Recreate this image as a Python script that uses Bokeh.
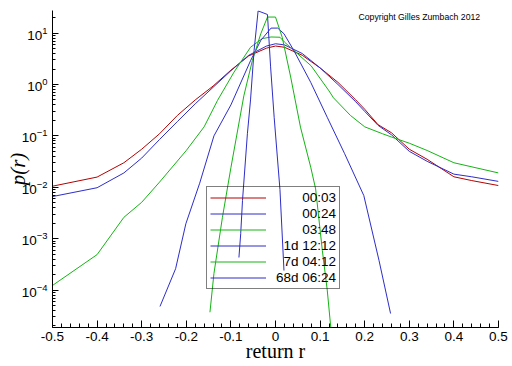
from bokeh.plotting import figure
from bokeh.models import Range1d, FixedTicker, LogTickFormatter, Label, Legend, LegendItem
from bokeh.embed import file_html
from bokeh.resources import INLINE

# ---------------- data ----------------
series_names = ["00:03", "00:24", "03:48", "1d 12:12", "7d 04:12", "68d 06:24"]
series_colors = ["#b40000", "#2d2dc8", "#14b414", "#2d2dc8", "#14b414", "#2d2dc8"]

r_0003 = [-0.5, -0.4, -0.34, -0.3, -0.26, -0.22, -0.18, -0.14, -0.1, -0.06, -0.02, 0.0,
          0.02, 0.06, 0.1, 0.14, 0.18, 0.2, 0.23, 0.26, 0.3, 0.34, 0.4, 0.44, 0.5]
p_0003 = [0.0105, 0.0158, 0.03, 0.055, 0.11, 0.25, 0.5, 0.93, 1.9, 3.6, 5.1, 5.6,
          5.3, 3.7, 2.1, 1.1, 0.5, 0.33, 0.165, 0.115, 0.055, 0.035, 0.016, 0.0135, 0.0108]

r_0024 = [-0.5, -0.4, -0.34, -0.3, -0.26, -0.22, -0.18, -0.14, -0.1, -0.06, -0.02, 0.0,
          0.02, 0.06, 0.1, 0.14, 0.18, 0.2, 0.23, 0.26, 0.3, 0.34, 0.4, 0.44, 0.5]
p_0024 = [0.0066, 0.0098, 0.019, 0.037, 0.085, 0.19, 0.42, 0.88, 1.85, 3.7, 5.6, 6.2,
          5.9, 4.0, 2.1, 1.0, 0.46, 0.3, 0.16, 0.105, 0.05, 0.032, 0.018, 0.016, 0.013]

r_0348 = [-0.5, -0.4, -0.34, -0.3, -0.26, -0.2, -0.16, -0.13, -0.093, -0.056, -0.03, -0.01,
          0.01, 0.02, 0.041, 0.08, 0.12, 0.13, 0.168, 0.2, 0.24, 0.26, 0.3, 0.34, 0.4, 0.5]
p_0348 = [1.23e-4, 4.9e-4, 2.6e-3, 5.1e-3, 0.0126, 0.052, 0.15, 0.49, 1.74, 5.3, 7.8, 8.4,
          8.3, 6.7, 4.6, 2.3, 0.75, 0.55, 0.25, 0.15, 0.11, 0.095, 0.072, 0.052, 0.030, 0.019]

r_1d = [-0.259, -0.224, -0.201, -0.17, -0.138, -0.1, -0.056, -0.033, -0.01, 0.005,
        0.019, 0.041, 0.079, 0.116, 0.155, 0.198, 0.232, 0.258]
p_1d = [4.8e-5, 2.6e-4, 1.95e-3, 0.012, 0.1, 0.4, 2.9, 7.2, 12.5, 12.5,
        9.7, 4.6, 1.1, 0.23, 0.045, 0.0069, 3.8e-4, 3.5e-5]

r_7d = [-0.147, -0.138, -0.119, -0.1, -0.071, -0.052, -0.033, -0.018, 0.0, 0.015,
        0.034, 0.056, 0.079, 0.09, 0.105, 0.116, 0.125]
p_7d = [3.7e-5, 2.1e-4, 2.6e-3, 0.024, 0.6, 2.9, 9.7, 20.5, 20.5, 8.3,
        1.4, 0.148, 0.0246, 0.0093, 5.9e-4, 1.0e-4, 1.5e-5]

r_68d = [-0.082, -0.078, -0.074, -0.063, -0.056, -0.048, -0.039, -0.018, -0.011, -0.003, 0.01, 0.019]
p_68d = [4.3e-4, 1.25e-3, 5.5e-3, 0.11, 0.5, 4.6, 27.0, 23.0, 2.2, 0.23, 0.009, 2.4e-4]

series_r = [r_0003, r_0024, r_0348, r_1d, r_7d, r_68d]
series_p = [p_0003, p_0024, p_0348, p_1d, p_7d, p_68d]

x_ticks = [-0.5, -0.4, -0.3, -0.2, -0.1, 0, 0.1, 0.2, 0.3, 0.4, 0.5]
x_tick_labels = ["-0.5", "-0.4", "-0.3", "-0.2", "-0.1", "0", "0.1", "0.2", "0.3", "0.4", "0.5"]
y_ticks = [1e-4, 1e-3, 1e-2, 1e-1, 1e0, 1e1]

# ---------------- figure ----------------
p = figure(width=512, height=366, output_backend="svg", toolbar_location=None,
           x_range=Range1d(-0.5, 0.5), y_range=Range1d(1.87e-5, 27.5),
           y_axis_type="log",
           min_border_left=52, min_border_right=14, min_border_top=10, min_border_bottom=39)
p.outline_line_color = None
p.grid.visible = False
p.background_fill_color = "white"
p.border_fill_color = "white"

renderers = []
for rr, pp, col in zip(series_r, series_p, series_colors):
    renderers.append(p.line(rr, pp, line_color=col, line_width=1))

# x axis
xa = p.xaxis[0]
xa.ticker = FixedTicker(ticks=x_ticks,
                        minor_ticks=[round(-0.5 + 0.02 * i, 2) for i in range(51)])
xa.major_label_overrides = {t: l for t, l in zip(x_ticks, x_tick_labels)}
xa.major_tick_in = 7
xa.major_tick_out = 0
xa.minor_tick_in = 4
xa.minor_tick_out = 0
xa.major_label_standoff = 4
xa.axis_label = "return r"
xa.axis_label_text_font = "Liberation Serif"
xa.axis_label_text_font_style = "normal"
xa.axis_label_text_font_size = "20px"
xa.axis_label_standoff = -4

# y axis
ya = p.yaxis[0]
ya.ticker = FixedTicker(ticks=y_ticks,
                        minor_ticks=[m * 10.0 ** e for e in range(-5, 2) for m in range(2, 10)])
ya.formatter = LogTickFormatter()
ya.major_tick_in = 6
ya.major_tick_out = 0
ya.minor_tick_in = 3
ya.minor_tick_out = 0
ya.major_label_standoff = 5
ya.axis_label = "p(r)"
ya.axis_label_text_font = "Liberation Serif"
ya.axis_label_text_font_style = "italic"
ya.axis_label_text_font_size = "21px"
ya.axis_label_standoff = -11

for ax in (xa, ya):
    ax.axis_line_color = "black"
    ax.major_tick_line_color = "black"
    ax.minor_tick_line_color = "black"
    ax.major_label_text_font = "Liberation Sans"
    ax.major_label_text_font_size = "13.5px"
    ax.major_label_text_color = "black"
    ax.axis_label_text_color = "black"

# legend (labels right-aligned by padding with no-break spaces)
NB = "\u00a0"
pad_counts = [7, 7, 7, 2, 2, 0]
items = [LegendItem(label=NB * k + name, renderers=[r])
         for k, name, r in zip(pad_counts, series_names, renderers)]
legend = Legend(items=items, location=(154, 38), margin=0, padding=3, spacing=1,
                glyph_width=56, glyph_height=15, label_height=15, label_standoff=10,
                label_text_font="Liberation Sans", label_text_font_size="13.5px",
                label_text_color="black",
                border_line_color="black", border_line_width=1,
                background_fill_alpha=0.0)
p.add_layout(legend)

# copyright note
p.add_layout(Label(x=306, y=311, x_units="screen", y_units="screen",
                   text="Copyright Gilles Zumbach 2012", text_font="Liberation Sans",
                   text_font_size="8.7px", text_color="black", text_baseline="middle"))

open("out.html", "w").write(file_html(p, INLINE))
